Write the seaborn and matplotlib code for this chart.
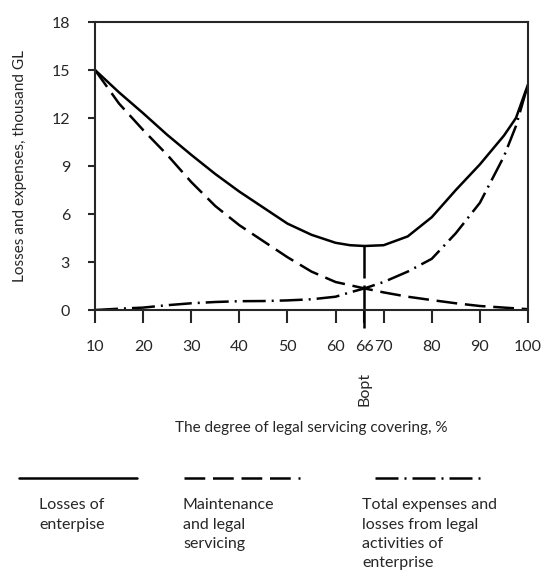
import matplotlib
matplotlib.use("Agg")
import matplotlib.pyplot as plt
from matplotlib.lines import Line2D
import pandas as pd
import seaborn as sns

# values
coverage = [10, 15, 20, 25, 30, 35, 40, 45, 50, 55, 60, 63, 66, 70, 75, 80, 85, 90, 95, 97.5, 100]
losses = [15.0, 13.6, 12.3, 10.95, 9.7, 8.5, 7.4, 6.4, 5.4, 4.7, 4.2, 4.05, 4.0, 4.05, 4.6, 5.8, 7.5, 9.1, 10.9, 12.0, 14.1]
maintenance = [15.0, 12.9, 11.25, 9.7, 8.0, 6.5, 5.3, 4.3, 3.3, 2.4, 1.75, 1.55, 1.35, 1.1, 0.83, 0.62, 0.42, 0.25, 0.15, 0.1, 0.05]
total = [0.0, 0.08, 0.15, 0.3, 0.42, 0.5, 0.55, 0.56, 0.6, 0.67, 0.83, 1.1, 1.35, 1.75, 2.4, 3.2, 4.8, 6.7, 9.6, 11.5, 14.1]

b_opt = 66
x_ticks = [10, 20, 30, 40, 50, 60, 66, 70, 80, 90, 100]
y_ticks = [0, 3, 6, 9, 12, 15, 18]

names = ["Losses of\nenterpise",
         "Maintenance\nand legal\nservicing",
         "Total expenses and\nlosses from legal\nactivities of\nenterprise"]
patterns = ["", (8.3, 3.1), (9.2, 2.4, 0.8, 2.4)]

df = pd.DataFrame({"x": coverage, names[0]: losses, names[1]: maintenance, names[2]: total})
long = df.melt(id_vars="x", var_name="series", value_name="y")

sns.set_style("ticks")
plt.rcParams["font.family"] = ["Lato", "DejaVu Sans"]
plt.rcParams["font.size"] = 11.5

W, H = 542, 583
LW = 1.8
fig = plt.figure(figsize=(W / 100, H / 100), dpi=100)
ax = fig.add_axes([95 / W, 1 - 310 / H, 433 / W, 288 / H])

sns.lineplot(data=long, x="x", y="y", style="series", style_order=names,
             dashes=dict(zip(names, patterns)), color="black", linewidth=LW,
             legend=False, ax=ax)

# optimum marker line, runs through the axis
ax.plot([b_opt, b_opt], [losses[coverage.index(b_opt)], -1.15], color="black",
        lw=LW, dashes=(12.8, 2.8, 30, 2), clip_on=False)
ax.annotate("Bopt", xy=(b_opt, 0), xycoords=("data", "axes fraction"),
            xytext=(0, -79), textcoords="offset pixels", rotation=90,
            ha="center", va="center", fontsize=11.5)

ax.set_xlim(10, 100)
ax.set_ylim(0, 18)
ax.set_xticks(x_ticks)
ax.set_yticks(y_ticks)
ax.tick_params(axis="x", direction="out", length=9.5, width=1.5, pad=12)
ax.tick_params(axis="y", direction="out", length=5, width=1.5, pad=13)
for s in ax.spines.values():
    s.set_linewidth(1.5)
    s.set_visible(True)

ax.set_xlabel("The degree of legal servicing covering, %", fontsize=11)
ax.set_ylabel("Losses and expenses, thousand GL", fontsize=11)
ax.xaxis.set_label_coords(0.5, -0.385)
ax.yaxis.set_label_coords(-0.158, 0.5)


def fx(px):
    return px / W


def fy(py):
    return 1 - py / H


# hand-drawn legend below the plot
legend_lines = [(19, 137), (184, 300), (375, 484)]
text_x = [39, 183, 362]
for (x0, x1), pat, tx, name in zip(legend_lines, patterns, text_x, names):
    ln = Line2D([fx(x0), fx(x1)], [fy(478), fy(478)], transform=fig.transFigure,
                color="black", lw=LW)
    if pat:
        ln.set_dashes(pat)
    fig.add_artist(ln)
    fig.text(fx(tx), fy(498), name, ha="left", va="top", fontsize=11.5,
             linespacing=1.5)

fig.savefig("out.png", dpi=100)
